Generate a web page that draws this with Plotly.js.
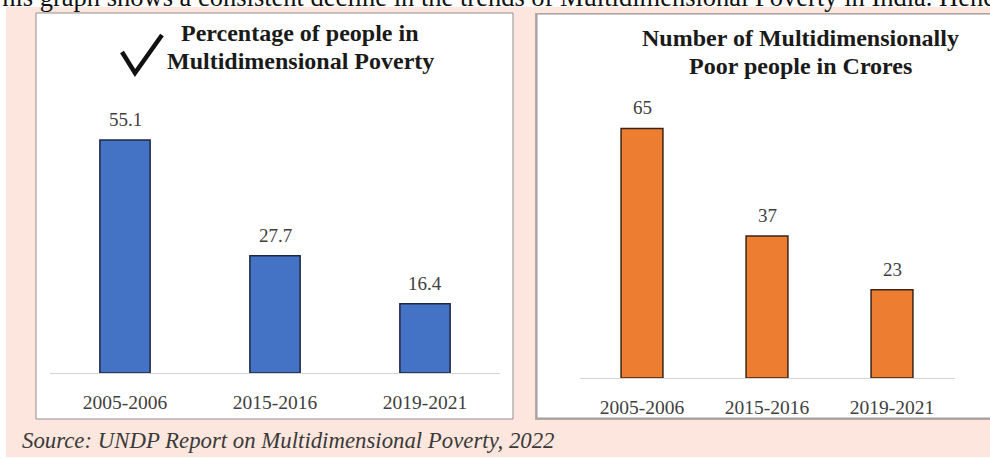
<!DOCTYPE html>
<html>
<head>
<meta charset="utf-8">
<script src="https://cdn.plot.ly/plotly-3.0.1.min.js"></script>
<style>html,body{margin:0;padding:0;background:#ffffff;}#chart{width:990px;height:459px;}</style>
</head>
<body>
<div id="chart"></div>
<script>
// ---- data ----
const periods = ["2005-2006", "2015-2016", "2019-2021"];
const percentPoor = [55.1, 27.7, 16.4];
const crorePoor = [65, 37, 23];
const percentLabels = ["55.1", "27.7", "16.4"];
const croreLabels = ["65", "37", "23"];
const leftTitle = ["Percentage of people in", "Multidimensional Poverty"];
const rightTitle = ["Number of Multidimensionally", "Poor people in Crores"];
const topText = "This graph shows a consistent decline in the trends of Multidimensional Poverty in India. Hence";
const sourceText = "Source: UNDP Report on Multidimensional Poverty, 2022";

// ---- layout helpers (pixel -> paper) ----
const W = 990, H = 459;
const px = v => v / W;
const py = v => 1 - v / H;
const SERIF = "Liberation Serif, serif";

const traces = [
  {
    type: "bar", x: periods, y: percentPoor, xaxis: "x", yaxis: "y",
    marker: {color: "#4472C4", line: {color: "#1c2740", width: 1.5}},
    hoverinfo: "x+y", showlegend: false
  },
  {
    type: "bar", x: periods, y: crorePoor, xaxis: "x2", yaxis: "y2",
    marker: {color: "#ED7D31", line: {color: "#3b2414", width: 1.5}},
    hoverinfo: "x+y", showlegend: false
  }
];

const annotations = [];
percentPoor.forEach((v, i) => annotations.push({
  xref: "x", yref: "y", x: periods[i], y: v, text: percentLabels[i],
  showarrow: false, yanchor: "bottom", yshift: 8,
  font: {family: SERIF, size: 19, color: "#404040"}
}));
crorePoor.forEach((v, i) => annotations.push({
  xref: "x2", yref: "y2", x: periods[i], y: v, text: croreLabels[i],
  showarrow: false, yanchor: "bottom", yshift: 8,
  font: {family: SERIF, size: 19, color: "#404040"}
}));
leftTitle.forEach((t, i) => annotations.push({
  xref: "paper", yref: "paper", x: px(300), y: py(33 + 28 * i), text: "<b>" + t + "</b>",
  showarrow: false, xanchor: "center", yanchor: "middle",
  font: {family: SERIF, size: 24, color: "#1a1a1a"}
}));
rightTitle.forEach((t, i) => annotations.push({
  xref: "paper", yref: "paper", x: px(800), y: py(38 + 28 * i), text: "<b>" + t + "</b>",
  showarrow: false, xanchor: "center", yanchor: "middle",
  font: {family: SERIF, size: 24, color: "#1a1a1a"}
}));
annotations.push({
  xref: "paper", yref: "paper", x: px(-16), y: py(-3), text: topText,
  showarrow: false, xanchor: "left", yanchor: "middle",
  font: {family: SERIF, size: 26.5, color: "#111111"}
});
annotations.push({
  xref: "paper", yref: "paper", x: px(20), y: py(440), text: "<i>" + sourceText + "</i>",
  showarrow: false, xanchor: "left", yanchor: "middle",
  font: {family: SERIF, size: 22.8, color: "#3a3a3a"}
});

function rect(x0, y0, x1, y1, fill, line, lw) {
  return {type: "rect", xref: "paper", yref: "paper", layer: "below",
    x0: px(x0), x1: px(x1), y0: py(y1), y1: py(y0),
    fillcolor: fill, line: {color: line || fill, width: lw || 0}};
}

const shapes = [
  rect(0, 0, 990, 7, "#ffffff"),
  rect(0, 0, 6, 459, "#ffffff"),
  rect(6, 7, 990, 457, "#fce6dd"),
  rect(36, 13, 513, 419, "#ffffff", "#8f8f8f", 1),
  rect(535, 13, 1000, 420, "#b5aaa6"),
  rect(537, 14, 1000, 418, "#ffffff", "#9a9a9a", 1),
  {type: "path", xref: "paper", yref: "paper", layer: "above",
    path: `M ${px(122)} ${py(52)} L ${px(135)} ${py(73)} L ${px(162)} ${py(35)}`,
    line: {color: "#111111", width: 4.5}}
];

const xCommon = {
  type: "category", showgrid: false, zeroline: false, showline: true,
  linecolor: "#d4d4d4", linewidth: 1, ticks: "outside", ticklen: 12,
  tickcolor: "rgba(0,0,0,0)", tickfont: {family: SERIF, size: 19.5, color: "#404040"},
  fixedrange: true
};
const yCommon = {showgrid: false, zeroline: false, showline: false, showticklabels: false, ticks: "", fixedrange: true};

const layout = {
  width: W, height: H,
  margin: {l: 0, r: 0, t: 0, b: 0},
  paper_bgcolor: "#ffffff", plot_bgcolor: "rgba(0,0,0,0)",
  bargap: 0.665,
  xaxis: Object.assign({}, xCommon, {domain: [px(50), px(500)], anchor: "y"}),
  yaxis: Object.assign({}, yCommon, {domain: [py(373), py(90)], range: [0, 283 / 4.23], anchor: "x"}),
  xaxis2: Object.assign({}, xCommon, {domain: [px(579.5), px(954.5)], anchor: "y2"}),
  yaxis2: Object.assign({}, yCommon, {domain: [py(378), py(90)], range: [0, 288 / 3.84], anchor: "x2"}),
  annotations: annotations,
  shapes: shapes,
  showlegend: false
};

Plotly.newPlot("chart", traces, layout, {staticPlot: true, displayModeBar: false});
</script>
</body>
</html>
